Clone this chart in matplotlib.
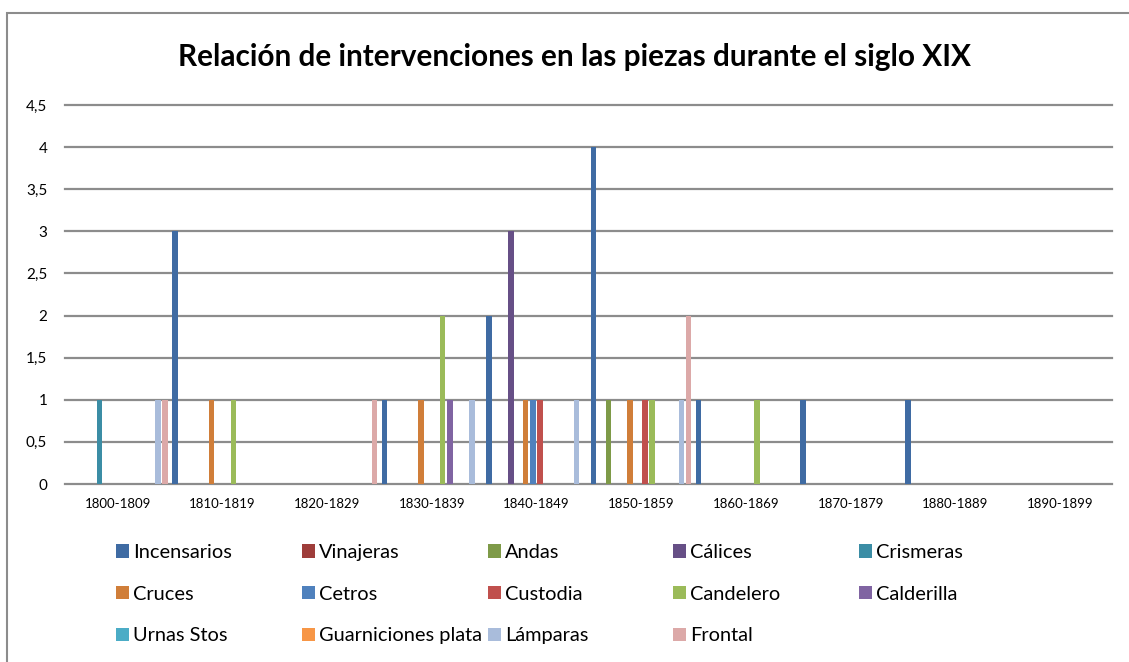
import numpy as np
import matplotlib.pyplot as plt
from matplotlib.patches import Rectangle

plt.rcParams['font.family'] = ['Lato', 'DejaVu Sans']

# decadas del siglo XIX
decades = ['1800-1809', '1810-1819', '1820-1829', '1830-1839', '1840-1849',
           '1850-1859', '1860-1869', '1870-1879', '1880-1889', '1890-1899']

series = ['Incensarios', 'Vinajeras', 'Andas', 'Cálices', 'Crismeras',
          'Cruces', 'Cetros', 'Custodia', 'Candelero', 'Calderilla',
          'Urnas Stos', 'Guarniciones plata', 'Lámparas', 'Frontal']

colors = ['#3F6BA3', '#9E3D3A', '#7E9A48', '#664F86', '#3B8DA5',
          '#D07E39', '#4F81BD', '#C0504D', '#9BBB59', '#8064A2',
          '#4BACC6', '#F79646', '#A9BCDB', '#DCA9A8']

# intervenciones por decada
incensarios = [0, 3, 0, 1, 2, 4, 1, 1, 1, 0]
vinajeras = [0, 0, 0, 0, 0, 0, 0, 0, 0, 0]
andas = [0, 0, 0, 0, 0, 1, 0, 0, 0, 0]
calices = [0, 0, 0, 0, 3, 0, 0, 0, 0, 0]
crismeras = [1, 0, 0, 0, 0, 0, 0, 0, 0, 0]
cruces = [0, 1, 0, 1, 1, 1, 0, 0, 0, 0]
cetros = [0, 0, 0, 0, 1, 0, 0, 0, 0, 0]
custodia = [0, 0, 0, 0, 1, 1, 0, 0, 0, 0]
candelero = [0, 1, 0, 2, 0, 1, 1, 0, 0, 0]
calderilla = [0, 0, 0, 1, 0, 0, 0, 0, 0, 0]
urnas = [0, 0, 0, 0, 0, 0, 0, 0, 0, 0]
guarniciones = [0, 0, 0, 0, 0, 0, 0, 0, 0, 0]
lamparas = [1, 0, 0, 1, 1, 1, 0, 0, 0, 0]
frontal = [1, 0, 1, 0, 0, 2, 0, 0, 0, 0]

values = [incensarios, vinajeras, andas, calices, crismeras, cruces, cetros,
          custodia, candelero, calderilla, urnas, guarniciones, lamparas, frontal]

W, H = 1129, 662
fig = plt.figure(figsize=(W / 100, H / 100), dpi=100)
ax = fig.add_axes([65.3 / W, 1 - 484 / H, 1047 / W, 379 / H])

x = np.arange(len(decades))
slot = 0.0697
bw = 0.0525
handles = []
for s in range(len(series)):
    b = ax.bar(x + (s - 6.5) * slot, values[s], bw, color=colors[s],
               label=series[s], zorder=3)
    handles.append(b)

ax.set_xlim(-0.5, len(decades) - 0.5)
ax.set_ylim(0, 4.5)
yt = np.arange(0, 4.51, 0.5)
ax.set_yticks(yt)
ax.set_yticklabels([f'{v:g}'.replace('.', ',') for v in yt], fontsize=11)
ax.set_xticks(x)
ax.set_xticklabels(decades, fontsize=9.5)
ax.tick_params(axis='y', length=0, pad=13)
ax.tick_params(axis='x', length=0, pad=10)
ax.yaxis.grid(True, color='#8C8C8C', lw=1.6, zorder=0)
for gl in ax.get_ygridlines():
    gl.set_clip_on(False)
for sp in ax.spines.values():
    sp.set_visible(False)

fig.text(574 / W, 1 - 57 / H, 'Relación de intervenciones en las piezas durante el siglo XIX',
         fontsize=21.4, fontweight='bold', ha='center', va='center')

# leyenda en 5 columnas, rellenada por filas
col_x = [116, 302, 488, 673, 859]
for j in range(5):
    idx = [r * 5 + j for r in range(3) if r * 5 + j < len(series)]
    fig.legend([handles[i] for i in idx], [series[i] for i in idx],
               loc='upper left', bbox_to_anchor=(col_x[j] / W, 1 - 544 / H),
               frameon=False, fontsize=14.4, handlelength=0.65, handleheight=0.65,
               handletextpad=0.2, labelspacing=1.23, borderpad=0, borderaxespad=0)

fig.add_artist(Rectangle((7 / W, -0.1), 1.2, 1.1 - 13 / H, transform=fig.transFigure,
                         fill=False, ec='#8C8C8C', lw=1.5))

fig.savefig('out.png', dpi=100)
